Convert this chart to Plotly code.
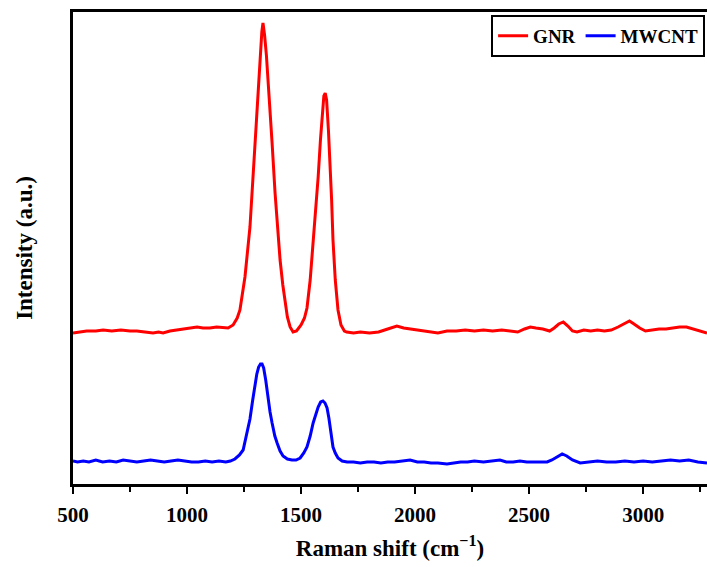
import plotly.graph_objects as go

# ---- data ----
gnr_x = [500, 530, 560, 600, 632, 670, 710, 750, 780, 815, 851, 875, 895, 925, 960, 1000,
         1044, 1070, 1100, 1130, 1160, 1180, 1202, 1220, 1232, 1254, 1276, 1289, 1300, 1307,
         1320, 1328, 1333, 1340, 1348, 1355, 1373, 1386, 1397, 1408, 1420, 1430, 1440, 1452,
         1465, 1480, 1500, 1515, 1526, 1540, 1553, 1565, 1575, 1585, 1593, 1600, 1606, 1612,
         1620, 1627, 1634, 1640, 1650, 1662, 1675, 1690, 1700, 1730, 1760, 1800, 1840, 1880,
         1920, 1950, 1980, 2020, 2060, 2100, 2140, 2180, 2220, 2260, 2300, 2340, 2380, 2420,
         2450, 2480, 2505, 2530, 2560, 2590, 2610, 2630, 2650, 2670, 2690, 2710, 2740, 2770,
         2800, 2830, 2860, 2890, 2915, 2940, 2960, 2985, 3010, 3040, 3070, 3100, 3130, 3160,
         3190, 3220, 3250, 3280]
gnr_y = [151, 152, 153, 153, 154, 153, 154, 153, 153, 152, 151, 152, 151, 153, 154, 155,
         157, 156, 156, 157, 156, 156, 159, 166, 174, 207, 257, 307, 344, 364,
         424, 452, 461, 449, 429, 407, 341, 291, 254, 224, 199, 181, 167, 157,
         152, 153, 159, 166, 176, 204, 241, 274, 307, 344, 372, 388, 391, 384,
         354, 324, 284, 244, 204, 174, 159, 153, 152, 151, 152, 151, 152, 155,
         158, 156, 155, 154, 153, 151, 153, 153, 154, 153, 154, 153, 154, 153,
         152, 155, 157, 156, 155, 153, 156, 160, 162, 158, 153, 152, 154, 153,
         154, 153, 154, 157, 160, 163, 160, 156, 153, 154, 155, 155, 156, 157,
         157, 155, 153, 151]

mwcnt_x = [500, 520, 545, 570, 600, 630, 660, 690, 720, 750, 780, 810, 840, 870, 900, 930,
           960, 990, 1020, 1050, 1080, 1110, 1140, 1170, 1190, 1210, 1230, 1246, 1262, 1276,
           1288, 1298, 1306, 1314, 1322, 1329, 1336, 1345, 1355, 1364, 1373, 1385, 1395, 1408,
           1421, 1440, 1460, 1478, 1496, 1512, 1526, 1540, 1553, 1565, 1575, 1586, 1596, 1605,
           1614, 1622, 1627, 1634, 1640, 1650, 1662, 1680, 1702, 1730, 1760, 1790, 1820, 1850,
           1880, 1910, 1940, 1978, 2010, 2040, 2070, 2100, 2140, 2170, 2200, 2230, 2260, 2300,
           2330, 2372, 2400, 2430, 2460, 2490, 2520, 2550, 2579, 2600, 2620, 2645, 2665, 2690,
           2724, 2760, 2800, 2840, 2880, 2920, 2960, 3000, 3040, 3080, 3120, 3160, 3200, 3240,
           3280]
mwcnt_y = [23, 22, 23, 22, 24, 22, 23, 22, 24, 23, 22, 23, 24, 23, 22, 23,
           24, 23, 22, 22, 23, 22, 23, 22, 23, 25, 29, 34, 50, 65,
           84, 100, 110, 117, 120, 120, 116, 104, 86, 72, 61, 48, 41, 33,
           28, 25, 24, 24, 26, 31, 37, 48, 61, 71, 77, 82, 83, 81,
           76, 66, 57, 47, 37, 31, 26, 23, 22, 22, 21, 22, 22, 21,
           22, 22, 23, 24, 22, 22, 21, 21, 20, 21, 22, 22, 23, 22,
           23, 24, 22, 22, 23, 22, 22, 22, 22, 24, 27, 30, 28, 24,
           21, 22, 23, 22, 22, 23, 22, 23, 22, 23, 24, 23, 24, 22,
           21]

tick_vals = [500, 1000, 1500, 2000, 2500, 3000]
tick_text = ["500", "1000", "1500", "2000", "2500", "3000"]

FONT = "Liberation Serif"

fig = go.Figure()
fig.add_trace(go.Scatter(x=gnr_x, y=gnr_y, mode="lines", name="GNR",
                         line=dict(color="#ff0000", width=3)))
fig.add_trace(go.Scatter(x=mwcnt_x, y=mwcnt_y, mode="lines", name="MWCNT",
                         line=dict(color="#0000ff", width=3)))

fig.update_layout(
    width=707, height=567,
    margin=dict(l=73, r=0, t=12, b=83),
    paper_bgcolor="white", plot_bgcolor="white",
    font=dict(family=FONT, color="black"),
    showlegend=True,
    legend=dict(orientation="h", x=0.997, y=0.994, xanchor="right", yanchor="top",
                bordercolor="black", borderwidth=2, bgcolor="white",
                font=dict(family=FONT, size=19, color="black", weight="bold"),
                itemwidth=30, tracegroupgap=0),
)
fig.update_xaxes(
    range=[500, 3280], showgrid=False, zeroline=False,
    showline=True, linecolor="black", linewidth=2.5, mirror=True,
    ticks="outside", ticklen=7, tickwidth=2, tickcolor="black",
    tickvals=tick_vals, ticktext=tick_text, ticklabelstandoff=3,
    tickfont=dict(family=FONT, size=21, color="black", weight="bold"),
    minor=dict(ticks="outside", ticklen=5, tickwidth=2, tickcolor="black", dtick=250, tick0=500),
    title=dict(text="Raman shift (cm<sup>−1</sup>)", standoff=14,
               font=dict(family=FONT, size=23, color="black", weight="bold")),
)
fig.update_yaxes(
    range=[0, 472], showgrid=False, zeroline=False,
    showline=True, linecolor="black", linewidth=2.5, mirror=False,
    ticks="", showticklabels=False,
    title=dict(text="Intensity (a.u.)", standoff=32,
               font=dict(family=FONT, size=23, color="black", weight="bold")),
)

fig.write_html("out.html")
